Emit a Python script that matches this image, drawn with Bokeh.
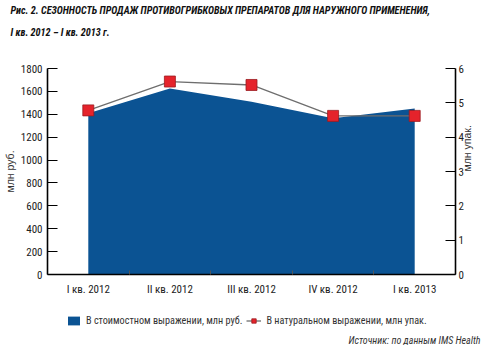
import math
from bokeh.plotting import figure
from bokeh.layouts import column
from bokeh.models import (Range1d, LinearAxis, FixedTicker, Legend, LegendItem, Title)
from bokeh.embed import file_html
from bokeh.resources import INLINE

# ---- data ----
quarters = ["I кв. 2012", "II кв. 2012", "III кв. 2012", "IV кв. 2012", "I кв. 2013"]
value_rub = [1410, 1625, 1510, 1365, 1450]      # млн руб. (area, left axis)
volume_pack = [4.78, 5.62, 5.52, 4.62, 4.62]    # млн упак. (line, right axis)
left_ticks = [0, 200, 400, 600, 800, 1000, 1200, 1400, 1600, 1800]
right_ticks = [0, 1, 2, 3, 4, 5, 6]

title_line1 = "Рис. 2. СЕЗОННОСТЬ ПРОДАЖ ПРОТИВОГРИБКОВЫХ ПРЕПАРАТОВ ДЛЯ НАРУЖНОГО ПРИМЕНЕНИЯ,"
title_line2 = "I кв. 2012 – I кв. 2013 г."
legend_rub = "В стоимостном выражении, млн руб."
legend_pack = "В натуральном выражении, млн упак."
source_text = "Источник: по данным IMS Health"

COND = "Arial Narrow, Roboto Condensed, Liberation Sans"
REG = "Liberation Sans"
BLUE = "#0b5393"
RED = "#e5232b"
LINE = "#6e6e6e"
MK_EDGE = "#9b1b1f"

xs = [i + 0.5 for i in range(len(quarters))]

p = figure(width=481, height=306, output_backend="svg", toolbar_location=None,
           x_range=Range1d(0, 5), y_range=Range1d(0, 1800),
           x_axis_location=None, y_axis_location=None,
           min_border_left=37, min_border_right=17, min_border_top=10, min_border_bottom=32)
p.extra_y_ranges = {"right": Range1d(0, 6)}
p.grid.visible = False
p.outline_line_color = None
p.background_fill_color = "white"

area = p.varea(x=xs, y1=[0] * len(xs), y2=value_rub, fill_color=BLUE)
line = p.line(x=xs, y=volume_pack, y_range_name="right", line_color=LINE, line_width=1.3)
pts = p.scatter(x=xs, y=volume_pack, y_range_name="right", marker="square", size=11,
                fill_color=RED, line_color=MK_EDGE, line_width=0.8)

def style(ax):
    ax.axis_line_color = "black"
    ax.axis_line_width = 1.6
    ax.major_tick_line_color = "black"
    ax.major_tick_line_width = 1.2
    ax.minor_tick_line_color = None
    ax.major_label_text_font = COND
    ax.major_label_text_font_size = "11px"
    ax.major_label_text_color = "#222222"
    ax.axis_label_text_font = REG
    ax.axis_label_text_font_size = "10.5px"
    ax.axis_label_text_font_style = "normal"
    ax.axis_label_text_color = "#333333"

yl = LinearAxis(ticker=FixedTicker(ticks=left_ticks), axis_label="млн руб.")
style(yl)
yl.major_tick_in = 10
yl.major_tick_out = 0
yl.major_label_standoff = 5
yl.axis_label_standoff = 2
p.add_layout(yl, "left")

yr = LinearAxis(y_range_name="right", ticker=FixedTicker(ticks=right_ticks), axis_label="млн упак.")
style(yr)
yr.major_tick_in = 10
yr.major_tick_out = 0
yr.major_label_standoff = 3
yr.axis_label_standoff = 0
if hasattr(yr, "axis_label_orientation"):
    yr.axis_label_orientation = math.pi / 2
    yr.axis_label_text_align = "center"
p.add_layout(yr, "right")

xa = LinearAxis(ticker=FixedTicker(ticks=xs, minor_ticks=[1, 2, 3, 4]),
                major_label_overrides={x: q for x, q in zip(xs, quarters)})
style(xa)
xa.major_tick_line_color = None
xa.major_tick_out = 0
xa.major_tick_in = 0
xa.minor_tick_line_color = "#555555"
xa.minor_tick_in = 4
xa.minor_tick_out = 0
xa.major_label_standoff = 8
p.add_layout(xa, "below")

spacer = Title(text=" ", text_font_size="10px", standoff=12)
p.add_layout(spacer, "above")
t2 = Title(text=title_line2, align="left", text_font=COND, text_font_size="10.2px",
           text_font_style="bold italic", text_color="#111111", offset=-37, standoff=12)
p.add_layout(t2, "above")
t1 = Title(text=title_line1, align="left", text_font=COND, text_font_size="10.2px",
           text_font_style="bold italic", text_color="#111111", offset=-37, standoff=5)
p.add_layout(t1, "above")

# ---- legend + source strip (same series, kept out of this strip's visible range) ----
p2 = figure(width=481, height=39, output_backend="svg", toolbar_location=None,
            x_range=Range1d(0, 5), y_range=Range1d(-2, -1),
            x_axis_location=None, y_axis_location=None,
            min_border_left=0, min_border_right=0, min_border_top=0, min_border_bottom=0)
p2.grid.visible = False
p2.outline_line_color = None
lg_area = p2.varea(x=xs, y1=[0] * len(xs), y2=value_rub, fill_color=BLUE)
lg_line = p2.line(x=xs, y=volume_pack, line_color=LINE, line_width=1.3)
lg_pts = p2.scatter(x=xs, y=volume_pack, marker="square", size=11, fill_color=RED,
                    line_color=MK_EDGE, line_width=0.8)
legend = Legend(items=[LegendItem(label=legend_rub, renderers=[lg_area]),
                       LegendItem(label=legend_pack, renderers=[lg_line, lg_pts])],
                orientation="horizontal", location=(19, 6),
                label_text_font=COND, label_text_font_size="10.2px", label_text_color="#333333",
                glyph_width=15, glyph_height=11, label_standoff=5, spacing=4,
                border_line_color=None, background_fill_alpha=0, padding=1, margin=0)
p2.add_layout(legend, "center")
src = Title(text=source_text, align="right", text_font=COND, text_font_size="10px",
            text_font_style="italic", text_color="#333333", offset=-25, standoff=0)
p2.add_layout(src, "below")

layout = column(p, p2, spacing=0)
open("out.html", "w").write(file_html(layout, INLINE))
